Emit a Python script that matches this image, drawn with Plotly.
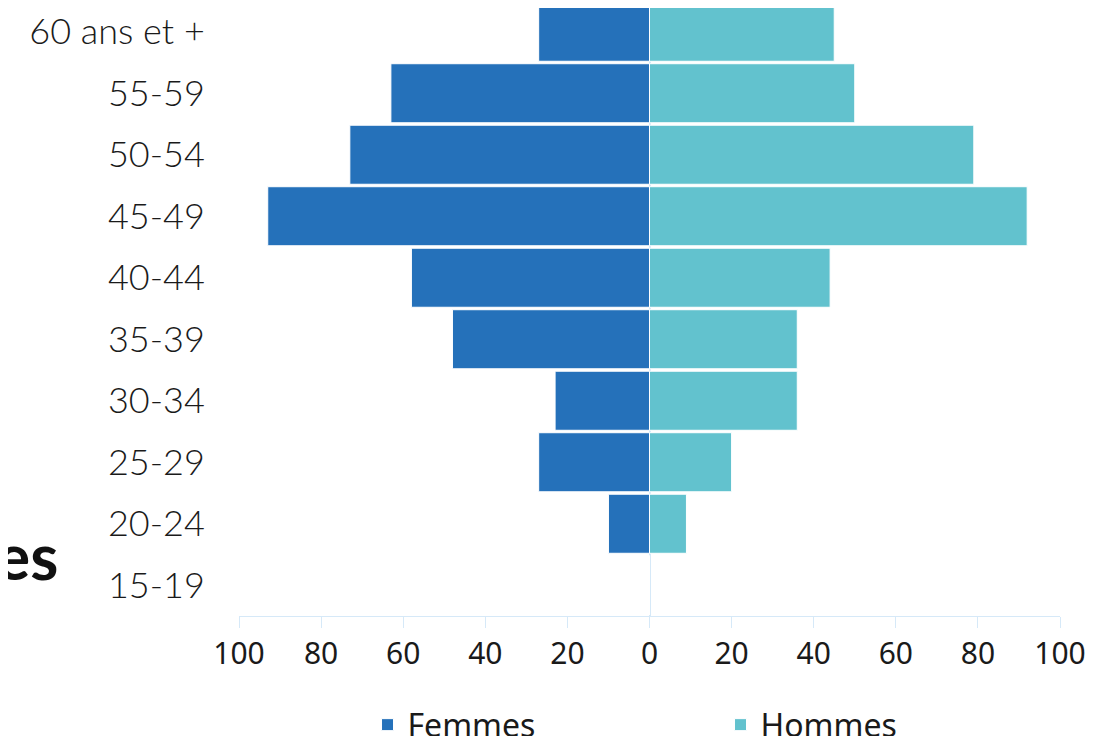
import plotly.graph_objects as go

categories = ["15-19", "20-24", "25-29", "30-34", "35-39", "40-44",
              "45-49", "50-54", "55-59", "60 ans et +"]
femmes = [0, 10, 27, 23, 48, 58, 93, 73, 63, 27]
hommes = [0, 9, 20, 36, 36, 44, 92, 79, 50, 45]
tick_vals = [-100, -80, -60, -40, -20, 0, 20, 40, 60, 80, 100]
tick_text = [str(abs(v)) for v in tick_vals]

C_F = "#2571BA"
C_H = "#62C2CE"
AXIS_C = "#D6E9F8"

fig = go.Figure()
fig.add_trace(go.Bar(
    y=categories, x=[-v for v in femmes], name="Femmes", orientation="h",
    marker=dict(color=C_F, line=dict(color="white", width=1)),
    customdata=femmes, hovertemplate="%{y}: %{customdata}<extra>Femmes</extra>",
))
fig.add_trace(go.Bar(
    y=categories, x=hommes, name="Hommes", orientation="h",
    marker=dict(color=C_H, line=dict(color="white", width=1)),
    hovertemplate="%{y}: %{x}<extra>Hommes</extra>",
))

fig.update_layout(
    width=1115, height=736,
    margin=dict(l=231, r=63, t=0, b=128, autoexpand=False),
    barmode="relative", bargap=0.04,
    paper_bgcolor="white", plot_bgcolor="white",
    showlegend=True,
    legend=dict(orientation="h", x=0.5865, xanchor="center", y=-0.179, yanchor="middle",
                font=dict(family="Noto Sans", size=32, color="#1a1a1a"),
                entrywidth=308, itemwidth=30, traceorder="normal"),
    annotations=[dict(text="<b>es</b>", xref="paper", yref="paper",
                      x=-0.218, y=0.0987,
                      xanchor="right", yanchor="middle", showarrow=False,
                      font=dict(family="Lato", size=64, color="#111"))],
)
fig.update_xaxes(
    range=[-100, 100], tickvals=tick_vals, ticktext=tick_text,
    showgrid=False, zeroline=True, zerolinecolor=AXIS_C, zerolinewidth=2,
    showline=True, linecolor=AXIS_C, linewidth=1,
    ticks="outside", ticklen=11, tickcolor=AXIS_C, tickwidth=1,
    tickfont=dict(family="Noto Sans", size=30, color="#1a1a1a"),
)
fig.update_yaxes(
    range=[-0.5, 9.386], showgrid=False, zeroline=False, showline=False,
    ticks="outside", ticklen=26, tickcolor="rgba(0,0,0,0)",
    tickfont=dict(family="Lato", size=36, color="#1a1a1a", weight=300),
)
fig.write_html("out.html")
